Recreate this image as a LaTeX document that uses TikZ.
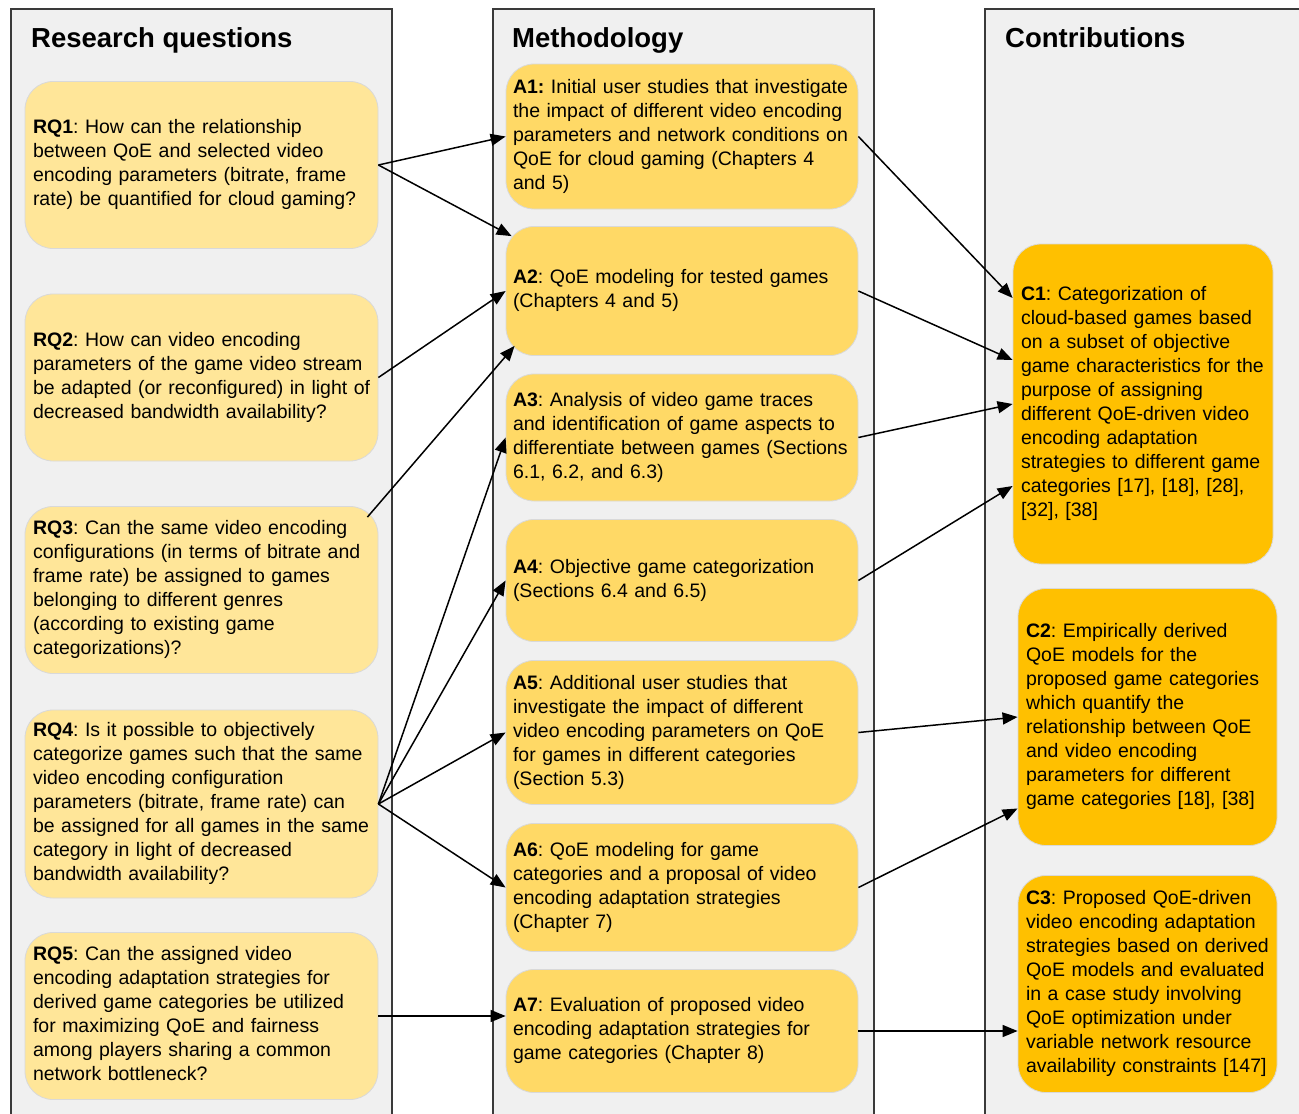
\documentclass[tikz,border=0pt]{standalone}
\usepackage{fontspec}
\setmainfont{Liberation Sans}
\usetikzlibrary{arrows.meta,calc}

\definecolor{panelgray}{HTML}{F0F0F0}
\definecolor{paneledge}{HTML}{3A3A3A}
\definecolor{boxedge}{HTML}{D9D9D9}
\definecolor{rqyellow}{HTML}{FFE699}
\definecolor{methyellow}{HTML}{FFD966}
\definecolor{controrange}{HTML}{FFC000}

% lines of a card, kept as typed (no re-wrapping)
\newcommand{\cardlines}[1]{\begin{tabular}{@{}l@{}}#1\end{tabular}}

\tikzset{
  panel/.style={draw=paneledge, line width=1.5pt, fill=panelgray},
  paneltitle/.style={anchor=base west, inner sep=0pt, font=\fontsize{27.5}{32}\selectfont\bfseries},
  card/.style={draw=boxedge, line width=0.8pt, rounded corners=28pt, inner xsep=8pt, inner ysep=0pt,
    align=left, font=\fontsize{19.5}{24}\selectfont\frenchspacing},
  rqbox/.style={card, fill=rqyellow, minimum width=353pt, text width=337pt},
  methbox/.style={card, fill=methyellow, minimum width=352pt, text width=338pt, inner xsep=7pt},
  contrbox/.style={card, fill=controrange, minimum width=259pt, text width=243pt},
  flowarrow/.style={line width=1.5pt, -{Triangle[length=15pt,width=12pt]}}
}

\begin{document}
\begin{tikzpicture}[x=1pt,y=-1pt]
\useasboundingbox (0,0) rectangle (1299,1114);

%Shape: Rectangle (panels)
\draw [panel] (11,9) rectangle (392,1130);
\draw [panel] (493,9) rectangle (874,1130);
\draw [panel] (985,9) rectangle (1315,1130);

% Text Node
\node [paneltitle] (trq) at (31,47) {Research questions};
% Text Node
\node [paneltitle] (tmeth) at (512,47) {Methodology};
% Text Node
\node [paneltitle] (tcontr) at (1005,47) {Contributions};

% Research questions
\node [rqbox, minimum height=167pt] (rq1) at (201.5,165) {\cardlines{\textbf{RQ1}: How can the relationship\\ between QoE and selected video\\ encoding parameters (bitrate, frame\\ rate) be quantified for cloud gaming?}};
\node [rqbox, minimum height=167pt] (rq2) at (201.5,377.5) {\cardlines{\textbf{RQ2}: How can video encoding\\ parameters of the game video stream\\ be adapted (or reconfigured) in light of\\ decreased bandwidth availability?}};
\node [rqbox, minimum height=167pt] (rq3) at (201.5,590) {\cardlines{\textbf{RQ3}: Can the same video encoding\\ configurations (in terms of bitrate and\\ frame rate) be assigned to games\\ belonging to different genres\\ (according to existing game\\ categorizations)?}};
\node [rqbox, minimum height=188pt] (rq4) at (201.5,804) {\cardlines{\textbf{RQ4}: Is it possible to objectively\\ categorize games such that the same\\ video encoding configuration\\ parameters (bitrate, frame rate) can\\ be assigned for all games in the same\\ category in light of decreased\\ bandwidth availability?}};
\node [rqbox, minimum height=167pt] (rq5) at (201.5,1016) {\cardlines{\textbf{RQ5}: Can the assigned video\\ encoding adaptation strategies for\\ derived game categories be utilized\\ for maximizing QoE and fairness\\ among players sharing a common\\ network bottleneck?}};

% Methodology
\node [methbox, minimum height=145pt] (a1) at (682,136.5) {\cardlines{\textbf{A1:} Initial user studies that investigate\\ the impact of different video encoding\\ parameters and network conditions on\\ QoE for cloud gaming (Chapters 4\\ and 5)}};
\node [methbox, minimum height=129pt] (a2) at (682,291) {\cardlines{\textbf{A2}: QoE modeling for tested games\\ (Chapters 4 and 5)}};
\node [methbox, minimum height=127pt] (a3) at (682,437.5) {\cardlines{\textbf{A3}: Analysis of video game traces\\ and identification of game aspects to\\ differentiate between games (Sections\\ 6.1, 6.2, and 6.3)}};
\node [methbox, minimum height=122pt] (a4) at (682,580.5) {\cardlines{\textbf{A4}: Objective game categorization\\ (Sections 6.4 and 6.5)}};
\node [methbox, minimum height=144pt] (a5) at (682,732.5) {\cardlines{\textbf{A5}: Additional user studies that\\ investigate the impact of different\\ video encoding parameters on QoE\\ for games in different categories\\ (Section 5.3)}};
\node [methbox, minimum height=128pt] (a6) at (682,887.5) {\cardlines{\textbf{A6}: QoE modeling for game\\ categories and a proposal of video\\ encoding adaptation strategies\\ (Chapter 7)}};
\node [methbox, minimum height=123pt] (a7) at (682,1031) {\cardlines{\textbf{A7}: Evaluation of proposed video\\ encoding adaptation strategies for\\ game categories (Chapter 8)}};

% Contributions
\node [contrbox, minimum width=260pt, text width=244pt, minimum height=320pt] (c1) at (1143,404) {\cardlines{\textbf{C1}: Categorization of\\ cloud-based games based\\ on a subset of objective\\ game characteristics for the\\ purpose of assigning\\ different QoE-driven video\\ encoding adaptation\\ strategies to different game\\ categories [17], [18], [28],\\{}[32], [38]}};
\node [contrbox, minimum height=257pt] (c2) at (1147.5,717) {\cardlines{\textbf{C2}: Empirically derived\\ QoE models for the\\ proposed game categories\\ which quantify the\\ relationship between QoE\\ and video encoding\\ parameters for different\\ game categories [18], [38]}};
\node [contrbox, minimum height=217pt] (c3) at (1147.5,984) {\cardlines{\textbf{C3}: Proposed QoE-driven\\ video encoding adaptation\\ strategies based on derived\\ QoE models and evaluated\\ in a case study involving\\ QoE optimization under\\ variable network resource\\ availability constraints [147]}};

%Straight Lines: questions -> methodology
\draw [flowarrow] (rq1.east) -- (a1.west);
\draw [flowarrow] (rq1.east) -- ($(a2.north west)+(6,10)$);
\draw [flowarrow] (rq2.east) -- (a2.west);
\draw [flowarrow] ($(rq3.north east)+(-11,11)$) -- ($(a2.south west)+(9,-10)$);
\draw [flowarrow] (rq4.east) -- (a3.west);
\draw [flowarrow] (rq4.east) -- (a4.west);
\draw [flowarrow] (rq4.east) -- (a5.west);
\draw [flowarrow] (rq4.east) -- (a6.west);
\draw [flowarrow] (rq5.east) -- (rq5.east -| a7.west);

%Straight Lines: methodology -> contributions
\draw [flowarrow] (a1.east) -- ($(c1.west)+(0,-106)$);
\draw [flowarrow] (a2.east) -- ($(c1.west)+(0,-44)$);
\draw [flowarrow] (a3.east) -- (c1.west);
\draw [flowarrow] (a4.east) -- ($(c1.west)+(0,82)$);
\draw [flowarrow] (a5.east) -- (c2.west);
\draw [flowarrow] (a6.east) -- ($(c2.west)+(0,91.5)$);
\draw [flowarrow] (a7.east) -- (a7.east -| c3.west);

\end{tikzpicture}
\end{document}
